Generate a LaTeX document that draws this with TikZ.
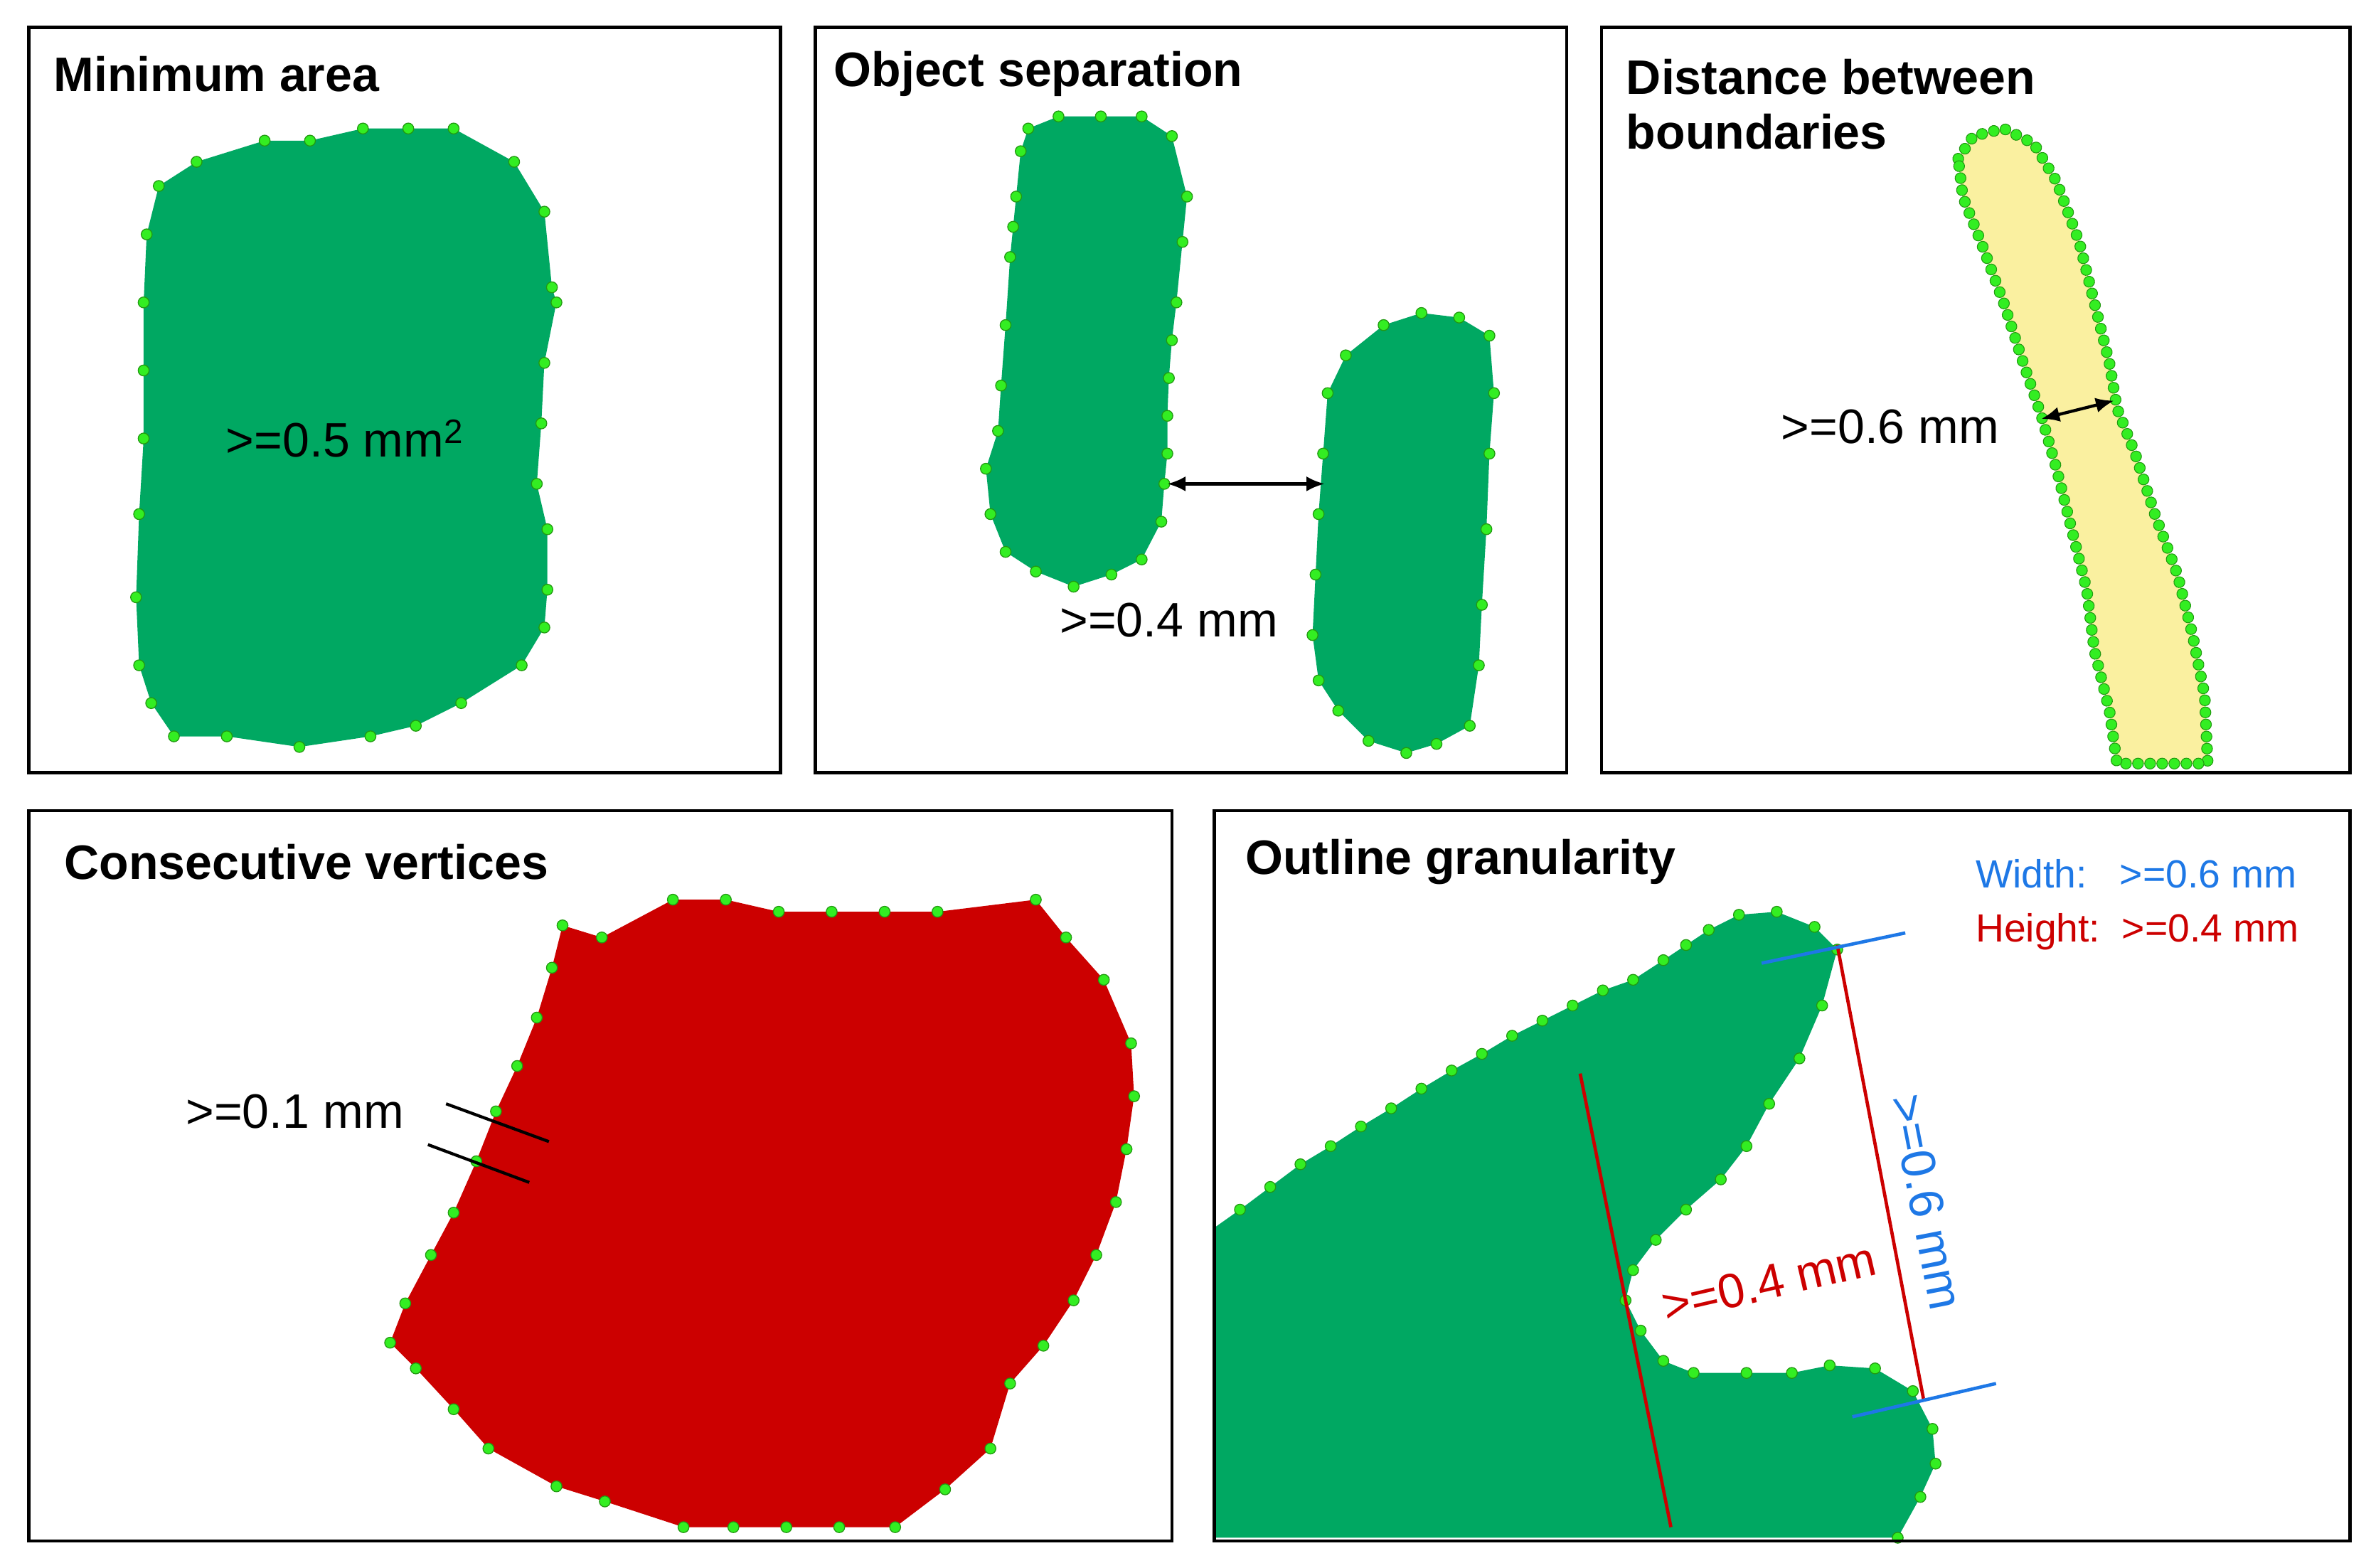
\documentclass[tikz,border=0pt]{standalone}
\usepackage{fontspec}
\setmainfont{Liberation Sans}
\usetikzlibrary{decorations.markings,arrows.meta}
\definecolor{dg}{HTML}{00A862}
\definecolor{lg}{HTML}{33EE22}
\definecolor{lgo}{HTML}{229911}
\definecolor{yel}{HTML}{FAF0A0}
\definecolor{rd}{HTML}{CC0000}
\definecolor{bl}{HTML}{1E78E6}
\tikzset{
 panel/.style={draw=black,line width=2.2pt},
 ttl/.style={anchor=west,font=\fontsize{32}{36}\selectfont\bfseries,align=left},
 lbl/.style={font=\fontsize{32}{36}\selectfont},
 dot/.style={fill=lg,draw=lgo,line width=0.6pt},
 dotted outline/.style={postaction={decorate},decoration={markings,
   mark=between positions 0 and 1 step 8pt with {\fill[lg,draw=lgo,line width=0.5pt] (0,0) circle (3.6pt);}}},
 dim/.style={line width=2pt,{Latex[length=12pt,width=10pt]}-{Latex[length=12pt,width=10pt]}}
}
\newcommand{\dotsat}[1]{\foreach \p in #1 {\fill[dot] \p circle (3.6pt);}}
\begin{document}
\begin{tikzpicture}[x=1pt,y=-1pt]
\useasboundingbox (0,0) rectangle (1568,1037);
% panel 1
\def\sa{(105,123),(130,107),(175,93),(205,93),(240,85),(270,85),(300,85),(340,107),(360,140),(365,190),(368,200),(360,240),(358,280),(355,320),(362,350),(362,390),(360,415),(345,440),(305,465),(275,480),(245,487),(198,494),(150,487),(115,487),(100,465),(92,440),(90,395),(92,340),(95,290),(95,245),(95,200),(97,155)}
\fill[dg] (105,123)--(130,107)--(175,93)--(205,93)--(240,85)--(270,85)--(300,85)--(340,107)--(360,140)--(365,190)--(368,200)--(360,240)--(358,280)--(355,320)--(362,350)--(362,390)--(360,415)--(345,440)--(305,465)--(275,480)--(245,487)--(198,494)--(150,487)--(115,487)--(100,465)--(92,440)--(90,395)--(92,340)--(95,290)--(95,245)--(95,200)--(97,155)--cycle;
\dotsat{\sa}
\node[lbl] (a1) at (228,290) {>=0.5 mm$^{\mathrm{2}}$};
\node[panel,minimum width=497,minimum height=493,anchor=north west] (p1) at (18,17) {};
\node[ttl] (t1) at (32,49) {Minimum area};
% panel 2
\def\sb{(680,85),(700,77),(728,77),(755,77),(775,90),(785,130),(782,160),(778,200),(775,225),(773,250),(772,275),(772,300),(770,320),(768,345),(755,370),(735,380),(710,388),(685,378),(665,365),(655,340),(652,310),(660,285),(662,255),(665,215),(668,170),(670,150),(672,130),(675,100)}
\fill[dg] (680,85)--(700,77)--(728,77)--(755,77)--(775,90)--(785,130)--(782,160)--(778,200)--(775,225)--(773,250)--(772,275)--(772,300)--(770,320)--(768,345)--(755,370)--(735,380)--(710,388)--(685,378)--(665,365)--(655,340)--(652,310)--(660,285)--(662,255)--(665,215)--(668,170)--(670,150)--(672,130)--(675,100)--cycle;
\dotsat{\sb}
\def\sc{(890,235),(915,215),(940,207),(965,210),(985,222),(988,260),(985,300),(983,350),(980,400),(978,440),(972,480),(950,492),(930,498),(905,490),(885,470),(872,450),(868,420),(870,380),(872,340),(875,300),(878,260)}
\fill[dg] (890,235)--(915,215)--(940,207)--(965,210)--(985,222)--(988,260)--(985,300)--(983,350)--(980,400)--(978,440)--(972,480)--(950,492)--(930,498)--(905,490)--(885,470)--(872,450)--(868,420)--(870,380)--(872,340)--(875,300)--(878,260)--cycle;
\dotsat{\sc}
\coordinate (s1) at (772,320); \coordinate (s2) at (876,320);
\draw[dim] (s1)--(s2);
\node[lbl] (a2) at (773,410) {>=0.4 mm};
\node[panel,minimum width=497,minimum height=493,anchor=north west] (p2) at (538,17) {};
\node[ttl] (t2) at (548,49) {Object separation};
% panel 3
\fill[yel,dotted outline] (1295,105)--(1305,90)--(1325,85)--(1345,95)--(1360,120)--(1375,160)--(1385,200)--(1395,240)--(1400,270)--(1412,300)--(1425,340)--(1440,380)--(1450,420)--(1458,460)--(1460,505)--(1400,505)--(1395,470)--(1385,430)--(1380,390)--(1370,350)--(1360,310)--(1350,275)--(1338,240)--(1325,200)--(1310,160)--(1298,130)--cycle;
\coordinate (d1) at (1350,277); \coordinate (d2) at (1398,265);
\draw[dim] (d1)--(d2);
\node[lbl] (a3) at (1250,282) {>=0.6 mm};
\node[panel,minimum width=495,minimum height=493,anchor=north west] (p3) at (1058,17) {};
\node[ttl] (t3) at (1072,69) {Distance between\\boundaries};
% panel 4
\def\sd{(372,612),(398,620),(445,595),(480,595),(515,603),(550,603),(585,603),(620,603),(685,595),(705,620),(730,648),(748,690),(750,725),(745,760),(738,795),(725,830),(710,860),(690,890),(668,915),(655,958),(625,985),(592,1010),(555,1010),(520,1010),(485,1010),(452,1010),(400,993),(368,983),(323,958),(300,932),(275,905),(258,888),(268,862),(285,830),(300,802),(315,768),(328,735),(342,705),(355,673),(365,640)}
\fill[rd] (372,612)--(398,620)--(445,595)--(480,595)--(515,603)--(550,603)--(585,603)--(620,603)--(685,595)--(705,620)--(730,648)--(748,690)--(750,725)--(745,760)--(738,795)--(725,830)--(710,860)--(690,890)--(668,915)--(655,958)--(625,985)--(592,1010)--(555,1010)--(520,1010)--(485,1010)--(452,1010)--(400,993)--(368,983)--(323,958)--(300,932)--(275,905)--(258,888)--(268,862)--(285,830)--(300,802)--(315,768)--(328,735)--(342,705)--(355,673)--(365,640)--cycle;
\dotsat{\sd}
\draw[line width=2pt] (295,730)--(363,755) (283,757)--(350,782);
\node[lbl] (a4) at (195,735) {>=0.1 mm};
\node[panel,minimum width=756,minimum height=483,anchor=north west] (p4) at (18,535) {};
\node[ttl] (t4) at (39,570) {Consecutive vertices};
% panel 5
\def\se{(820,800),(840,785),(860,770),(880,758),(900,745),(920,733),(940,720),(960,708),(980,697),(1000,685),(1020,675),(1040,665),(1060,655),(1080,648),(1100,635),(1115,625),(1130,615),(1150,605),(1175,603),(1200,613),(1215,628),(1205,665),(1190,700),(1170,730),(1155,758),(1138,780),(1115,800),(1095,820),(1080,840),(1075,860),(1085,880),(1100,900),(1120,908),(1155,908),(1185,908),(1210,903),(1240,905),(1265,920),(1278,945),(1280,968),(1270,990),(1255,1017)}
\fill[dg] (803,812)--(820,800)--(840,785)--(860,770)--(880,758)--(900,745)--(920,733)--(940,720)--(960,708)--(980,697)--(1000,685)--(1020,675)--(1040,665)--(1060,655)--(1080,648)--(1100,635)--(1115,625)--(1130,615)--(1150,605)--(1175,603)--(1200,613)--(1215,628)--(1205,665)--(1190,700)--(1170,730)--(1155,758)--(1138,780)--(1115,800)--(1095,820)--(1080,840)--(1075,860)--(1085,880)--(1100,900)--(1120,908)--(1155,908)--(1185,908)--(1210,903)--(1240,905)--(1265,920)--(1278,945)--(1280,968)--(1270,990)--(1255,1017)--(803,1017)--cycle;
\dotsat{\se}
\draw[rd,line width=2.2pt] (1045,710)--(1105,1010);
\draw[rd,line width=2.2pt] (1215,625)--(1272,925);
\draw[bl,line width=2.2pt] (1165,637)--(1260,617) (1225,937)--(1320,915);
\node[lbl,text=rd,rotate=13] (a5) at (1170,848) {>=0.4 mm};
\node[lbl,text=bl,rotate=-79] (a6) at (1274,795) {>=0.6 mm};
\node[anchor=west,text=bl,font=\fontsize{26}{30}\selectfont] (w) at (1303,578) {Width:\ \ \ >=0.6 mm};
\node[anchor=west,text=rd,font=\fontsize{26}{30}\selectfont] (h) at (1303,616) {Height:\ \ >=0.4 mm};
\node[panel,minimum width=751,minimum height=483,anchor=north west] (p5) at (802,535) {};
\node[ttl] (t5) at (820,570) {Outline granularity};
\end{tikzpicture}
\end{document}
